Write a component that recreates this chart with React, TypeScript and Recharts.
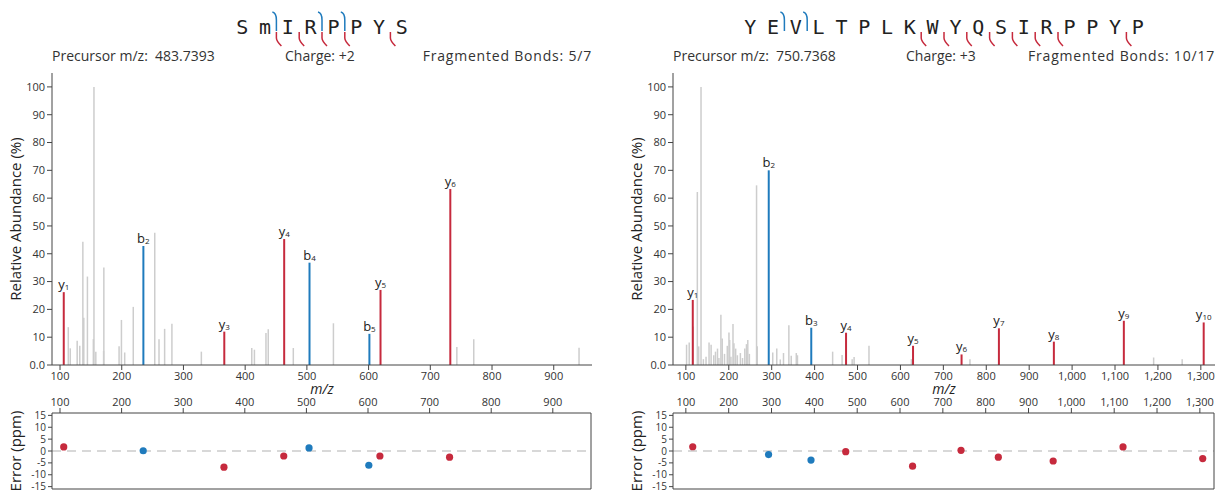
import React from "react";
import { ScatterChart, Scatter, XAxis, YAxis, ErrorBar, ReferenceLine } from "recharts";

const FONT = "'Open Sans', sans-serif";
const RED = "#c62a3d";
const BLUE = "#1f7bbd";
const GRAY = "#cdcdcd";
const AXIS = "#444";
const TEXT = "#333";

// ---- left spectrum: SmIRPPYS
const leftSequence = ["S", "m", "I", "R", "P", "P", "Y", "S"];
const leftPrecursor = "483.7393";
const leftCharge = "+2";
const leftBLabels = ["b2", "b4", "b5"];
const leftBMz = [235.07, 504.26, 601.31];
const leftBAbund = [42.8, 36.8, 11.2];
const leftBError = [0.1, 1.3, -6.0];
const leftYLabels = ["y1", "y3", "y4", "y5", "y6"];
const leftYMz = [106.05, 366.17, 463.22, 619.32, 732.41];
const leftYAbund = [26.2, 12.0, 45.3, 27.0, 63.3];
const leftYError = [1.7, -6.8, -2.1, -2.1, -2.6];
const leftOtherMz = [113.4, 116.6, 127.8, 132, 137, 138.5, 144.4, 154, 155, 158, 170.6, 171, 195.7, 199.5, 204.8, 218.7, 253.5, 260.4, 269.5, 281.3, 329, 410.7, 415, 433.7, 437.4, 478, 543, 743, 770.4, 941];
const leftOtherAbund = [13.6, 6.0, 8.7, 6.9, 44.3, 17, 31.8, 9.3, 100, 4.8, 5.1, 35.1, 6.7, 16.2, 4.5, 20.9, 47.6, 9.3, 13, 14.8, 4.8, 6.1, 5.5, 11.5, 12.9, 6.1, 15, 6.5, 9.3, 6.2];
const leftDomain: [number, number] = [87, 962];
const leftTicks = [100, 200, 300, 400, 500, 600, 700, 800, 900];

// ---- right spectrum: YEVLTPLKWYQSIRPPYP
const rightSequence = ["Y", "E", "V", "L", "T", "P", "L", "K", "W", "Y", "Q", "S", "I", "R", "P", "P", "Y", "P"];
const rightPrecursor = "750.7368";
const rightCharge = "+3";
const rightBLabels = ["b2", "b3"];
const rightBMz = [293.11, 392.18];
const rightBAbund = [70.0, 13.4];
const rightBError = [-1.5, -3.8];
const rightYLabels = ["y1", "y4", "y5", "y6", "y7", "y8", "y9", "y10"];
const rightYMz = [116.07, 473.24, 629.34, 742.43, 829.46, 957.52, 1120.58, 1306.66];
const rightYAbund = [23.4, 11.6, 6.9, 3.8, 13.2, 8.4, 15.9, 15.3];
const rightYError = [1.8, -0.3, -6.4, 0.3, -2.6, -4.2, 1.7, -3.2];
const rightOtherMz = [101.6, 107.8, 117, 126.7, 129.8, 135.3, 140.8, 147, 154, 158.8, 165, 169, 173.7, 177, 181.6, 184.7, 190, 196.5, 200.4, 202, 205, 209.8, 212, 216, 220, 227, 232, 237.3, 241.2, 244.3, 248, 264.7, 266.3, 302.4, 311.8, 320, 327.5, 340, 345.5, 357.3, 360, 442, 464, 487.5, 492, 526.7, 625.5, 762, 1190, 1256.5];
const rightOtherAbund = [7.3, 8.1, 13.8, 62.2, 6.7, 100, 2.1, 3, 8.1, 7.3, 3.5, 4.8, 5.9, 2.5, 18.1, 9.5, 4, 6.9, 11.7, 9, 3, 14.7, 7.8, 5.9, 3.5, 4.3, 2.5, 5.9, 7.5, 9, 4, 64.6, 6.7, 4.5, 5.9, 2, 4.3, 14.3, 3.3, 4.3, 3.5, 4.8, 3.6, 2.1, 2.9, 6.9, 2.1, 2.1, 2.7, 2.1];
const rightDomain: [number, number] = [70, 1333];
const rightTicks = [100, 200, 300, 400, 500, 600, 700, 800, 900, 1000, 1100, 1200, 1300];

const abundanceTicks = [0, 10, 20, 30, 40, 50, 60, 70, 80, 90, 100];
const errorTicks = [-15, -10, -5, 0, 5, 10, 15];

const fmtMz = (v: number) => v.toLocaleString("en-US");
const fmtAb = (v: number) => (v === 0 ? "0.0" : String(v));

const ionNumber = (label: string) => parseInt(label.slice(1), 10);

const peakRows = (mz: number[], ab: number[], labels?: string[]) =>
  mz.map((m, i) => ({ mz: m, ab: ab[i], bar: [ab[i], 0], label: labels ? labels[i] : "" }));

const errRows = (mz: number[], err: number[]) => mz.map((m, i) => ({ mz: m, err: err[i] }));

const noShape = () => <g />;

const ionShape = (props: any) => {
  const { cx, cy, payload } = props;
  const name: string = payload.label;
  return (
    <text x={cx} y={cy - 3} textAnchor="middle" fontSize={13} fontFamily={FONT} fill="#222">
      <tspan>{name[0]}</tspan>
      <tspan fontSize={8} dy={1}>{name.slice(1)}</tspan>
    </text>
  );
};

const dotShape = (color: string) => (props: any) => <circle cx={props.cx} cy={props.cy} r={3.6} fill={color} />;

const YTitle = (props: any) => {
  const { viewBox, text } = props;
  const x = viewBox.x + 17;
  const y = viewBox.y + viewBox.height / 2;
  return (
    <text x={x} y={y} transform={`rotate(-90, ${x}, ${y})`} textAnchor="middle" dominantBaseline="middle" fontSize={15} fontFamily={FONT} fill="#222">
      {text}
    </text>
  );
};

const MzTitle = (props: any) => {
  const { viewBox } = props;
  return (
    <text x={viewBox.x + viewBox.width / 2} y={viewBox.y + 29} textAnchor="middle" fontSize={14} fontStyle="italic" fontFamily={FONT} fill="#222">
      m/z
    </text>
  );
};

type PanelProps = {
  x: number;
  width: number;
  marginRight: number;
  sequence: string[];
  precursor: string;
  charge: string;
  bLabels: string[];
  bMz: number[];
  bAbund: number[];
  bError: number[];
  yLabels: string[];
  yMz: number[];
  yAbund: number[];
  yError: number[];
  otherMz: number[];
  otherAbund: number[];
  domain: [number, number];
  ticks: number[];
};

function Panel(p: PanelProps) {
  const plotLeft = 52;
  const plotRight = p.width - p.marginRight;
  const n = p.sequence.length;
  const bBonds = p.bLabels.map(ionNumber);
  const yBonds = p.yLabels.map((l) => n - ionNumber(l));
  const fragmented = new Set([...bBonds, ...yBonds]).size;

  const step = 22.8;
  const seqCenter = (plotLeft + plotRight) / 2;
  const seqStart = seqCenter - ((n - 1) * step) / 2;
  const bondX = (k: number) => seqStart + (k - 1) * step + step / 2;

  const tickStyle = { fontSize: 11, fill: TEXT, fontFamily: FONT };
  const smallTick = { fontSize: 10, fill: TEXT, fontFamily: FONT };

  return (
    <div style={{ position: "absolute", left: p.x, top: 0, width: p.width, height: 493 }}>
      <svg width={p.width} height={48} style={{ position: "absolute", left: 0, top: 0 }}>
        {p.sequence.map((s, i) => (
          <text key={i} x={seqStart + i * step} y={34} textAnchor="middle" fontSize={20} fontFamily="'DejaVu Sans Mono', monospace" fill="#222">
            {s}
          </text>
        ))}
        {bBonds.map((k) => (
          <path key={"b" + k} d={`M ${bondX(k) - 4} 12 Q ${bondX(k)} 13 ${bondX(k)} 20 L ${bondX(k)} 31`} stroke={BLUE} strokeWidth={1.5} fill="none" />
        ))}
        {yBonds.map((k) => (
          <path key={"y" + k} d={`M ${bondX(k)} 32 L ${bondX(k)} 38 Q ${bondX(k)} 41 ${bondX(k) + 5} 46`} stroke={RED} strokeWidth={1.5} fill="none" />
        ))}
      </svg>

      <div style={{ position: "absolute", top: 46, left: plotLeft, width: plotRight - plotLeft, height: 20, fontFamily: FONT, fontSize: 14, color: TEXT, whiteSpace: "pre" }}>
        <span style={{ position: "absolute", left: 0 }}>{`Precursor m/z:  ${p.precursor}`}</span>
        <span style={{ position: "absolute", left: 233 }}>{`Charge: ${p.charge}`}</span>
        <span style={{ position: "absolute", right: 0, letterSpacing: 0.8 }}>{`Fragmented Bonds: ${fragmented}/${n - 1}`}</span>
      </div>

      <div style={{ position: "absolute", left: 0, top: 60 }}>
        <ScatterChart width={p.width} height={345} margin={{ top: 13, right: p.marginRight, bottom: 0, left: 0 }}>
          <XAxis type="number" dataKey="mz" domain={p.domain} ticks={p.ticks} allowDataOverflow tickFormatter={fmtMz} height={40} stroke={AXIS} tick={tickStyle} tickSize={5} label={<MzTitle />} />
          <YAxis type="number" dataKey="ab" domain={[0, 105]} ticks={abundanceTicks} allowDataOverflow tickFormatter={fmtAb} width={52} stroke={AXIS} tick={tickStyle} tickSize={5} label={<YTitle text="Relative Abundance (%)" />} />
          <Scatter data={peakRows(p.otherMz, p.otherAbund)} shape={noShape} isAnimationActive={false}>
            <ErrorBar dataKey="bar" direction="y" width={0} stroke={GRAY} strokeWidth={1.5} isAnimationActive={false} />
          </Scatter>
          <Scatter data={peakRows(p.bMz, p.bAbund, p.bLabels)} shape={ionShape} isAnimationActive={false}>
            <ErrorBar dataKey="bar" direction="y" width={0} stroke={BLUE} strokeWidth={2} isAnimationActive={false} />
          </Scatter>
          <Scatter data={peakRows(p.yMz, p.yAbund, p.yLabels)} shape={ionShape} isAnimationActive={false}>
            <ErrorBar dataKey="bar" direction="y" width={0} stroke={RED} strokeWidth={2} isAnimationActive={false} />
          </Scatter>
        </ScatterChart>
      </div>

      <div style={{ position: "absolute", left: 0, top: 390 }}>
        <ScatterChart width={p.width} height={103} margin={{ top: 3, right: p.marginRight, bottom: 3, left: 0 }}>
          <XAxis xAxisId="top" orientation="top" type="number" dataKey="mz" domain={p.domain} ticks={p.ticks} allowDataOverflow tickFormatter={fmtMz} height={20} stroke={AXIS} tick={tickStyle} tickSize={5} />
          <XAxis xAxisId="bottom" orientation="bottom" type="number" dataKey="mz" domain={p.domain} allowDataOverflow tick={false} tickLine={false} height={1} stroke={AXIS} />
          <YAxis yAxisId="left" type="number" dataKey="err" domain={[-16, 16]} ticks={errorTicks} allowDataOverflow width={52} stroke={AXIS} tick={smallTick} tickSize={4} interval={0} label={<YTitle text="Error (ppm)" />} />
          <YAxis yAxisId="right" orientation="right" type="number" dataKey="err" domain={[-16, 16]} allowDataOverflow tick={false} tickLine={false} width={1} stroke={AXIS} />
          <ReferenceLine xAxisId="top" yAxisId="left" y={0} stroke="#cccccc" strokeWidth={1.5} strokeDasharray="9 6" />
          <Scatter xAxisId="top" yAxisId="left" data={errRows(p.bMz, p.bError)} shape={dotShape(BLUE)} isAnimationActive={false} />
          <Scatter xAxisId="top" yAxisId="left" data={errRows(p.yMz, p.yError)} shape={dotShape(RED)} isAnimationActive={false} />
        </ScatterChart>
      </div>
    </div>
  );
}

export default function App() {
  return (
    <div style={{ position: "absolute", left: 0, top: 0, width: 1217, height: 493, background: "#fff" }}>
      <Panel
        x={0}
        width={600}
        marginRight={8}
        sequence={leftSequence}
        precursor={leftPrecursor}
        charge={leftCharge}
        bLabels={leftBLabels}
        bMz={leftBMz}
        bAbund={leftBAbund}
        bError={leftBError}
        yLabels={leftYLabels}
        yMz={leftYMz}
        yAbund={leftYAbund}
        yError={leftYError}
        otherMz={leftOtherMz}
        otherAbund={leftOtherAbund}
        domain={leftDomain}
        ticks={leftTicks}
      />
      <Panel
        x={621}
        width={596}
        marginRight={2}
        sequence={rightSequence}
        precursor={rightPrecursor}
        charge={rightCharge}
        bLabels={rightBLabels}
        bMz={rightBMz}
        bAbund={rightBAbund}
        bError={rightBError}
        yLabels={rightYLabels}
        yMz={rightYMz}
        yAbund={rightYAbund}
        yError={rightYError}
        otherMz={rightOtherMz}
        otherAbund={rightOtherAbund}
        domain={rightDomain}
        ticks={rightTicks}
      />
    </div>
  );
}
